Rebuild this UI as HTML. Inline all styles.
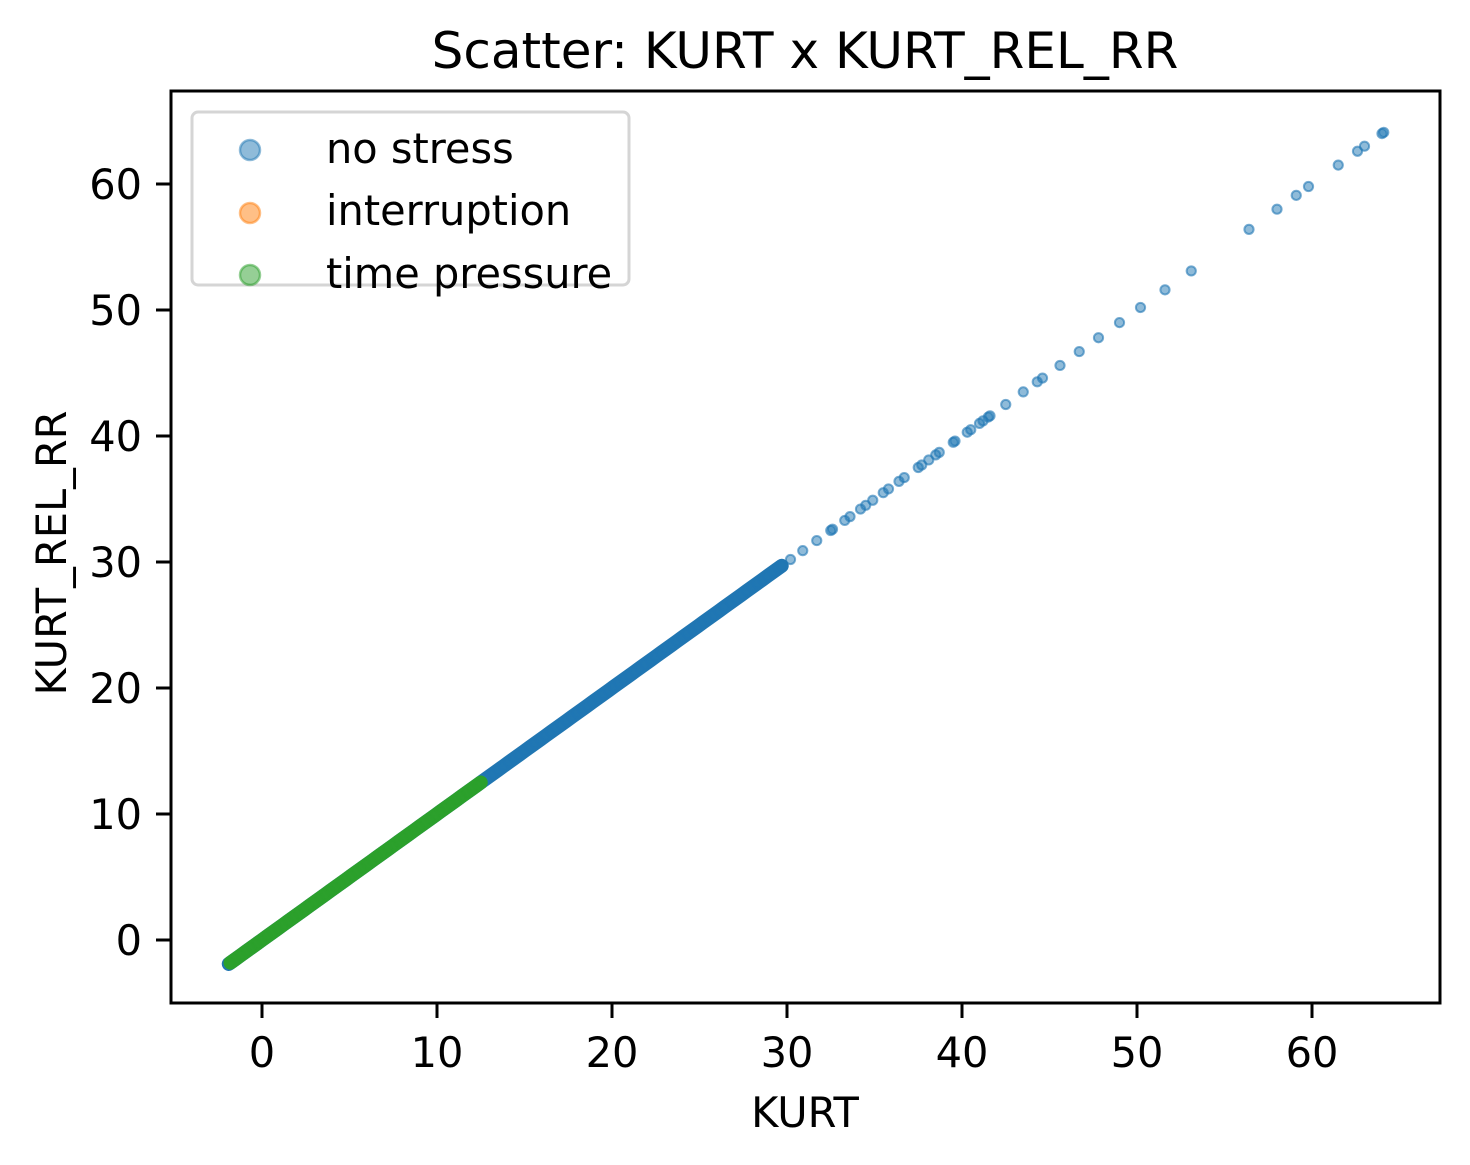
<!DOCTYPE html>
<html><head><meta charset="utf-8">
<style>
html,body{margin:0;padding:0;background:#fff;}
svg{display:block;font-family:"DejaVu Sans","Liberation Sans",sans-serif;}
</style></head>
<body>
<svg id="chart" width="1470" height="1165" viewBox="0 0 1470 1165">
<rect width="1470" height="1165" fill="#fff"/>
<text x="805" y="68" style="font-size:50px" text-anchor="middle">Scatter: KURT x KURT_REL_RR</text>
<g id="marks"></g>
<rect x="171" y="91" width="1269" height="912" fill="none" stroke="#000" stroke-width="3"/>
<g id="xticks"></g>
<g id="yticks"></g>
<text x="805" y="1127" style="font-size:41.5px" text-anchor="middle">KURT</text>
<text transform="translate(66,553) rotate(-90)" style="font-size:41.5px" text-anchor="middle">KURT_REL_RR</text>
<g>
<rect x="192" y="112" width="437" height="173" rx="6" fill="#fff" fill-opacity="0.8" stroke="#d5d5d5" stroke-width="3"/>
<g>
<circle cx="250" cy="150" r="10" fill="#1f77b4" fill-opacity="0.5" stroke="#1f77b4" stroke-opacity="0.5" stroke-width="2.5"/>
<text x="326" y="163" style="font-size:41.5px">no stress</text></g>
<g>
<circle cx="250" cy="213" r="10" fill="#ff7f0e" fill-opacity="0.5" stroke="#ff7f0e" stroke-opacity="0.5" stroke-width="2.5"/>
<text x="326" y="225" style="font-size:41.5px">interruption</text></g>
<g>
<circle cx="250" cy="275" r="10" fill="#2ca02c" fill-opacity="0.5" stroke="#2ca02c" stroke-opacity="0.5" stroke-width="2.5"/>
<text x="326" y="288" style="font-size:41.5px">time pressure</text></g>
</g>
</svg>
<script>
const xTickValues=[0,10,20,30,40,50,60];
const yTickValues=[0,10,20,30,40,50,60];
const noStressX=[-1.9,-1.7,-1.5,-1.2,-0.9,-0.6,-0.3,0,0.3,0.6,0.9,1.2,1.5,1.8,2.1,2.4,2.7,3,3.3,3.6,3.9,4.2,4.5,4.8,5.1,5.4,5.7,6,6.3,6.6,6.9,7.2,7.5,7.8,8.1,8.4,8.7,9,9.3,9.6,9.9,10.2,10.5,10.8,11.1,11.4,11.7,12,12.3,12.6,12.9,13.2,13.5,13.8,14.1,14.4,14.7,15,15.3,15.6,15.9,16.2,16.5,16.8,17.1,17.4,17.7,18,18.3,18.6,18.9,19.2,19.5,19.8,20.1,20.4,20.7,21,21.3,21.6,21.9,22.2,22.5,22.8,23.1,23.4,23.7,24,24.3,24.6,24.9,25.2,25.5,25.8,26.1,26.4,26.8,27.1,27.4,27.7,28,28.3,28.6,28.9,29.2,29.5,29.7,30.2,30.9,31.7,32.5,32.6,33.3,33.6,34.2,34.5,34.9,35.5,35.8,36.4,36.7,37.5,37.7,38.1,38.5,38.7,39.5,39.6,40.3,40.5,41.0,41.2,41.5,41.6,42.5,43.5,44.3,44.6,45.6,46.7,47.8,49.0,50.2,51.6,53.1,56.4,58.0,59.1,59.8,61.5,62.6,63.0,64.0,64.1];
const noStressY=noStressX.slice();
const interruptionX=[-1.5,0,2,4,6,8,10];
const interruptionY=interruptionX.slice();
const timePressureX=[-1.8,-1.5,-1.2,-0.9,-0.6,-0.3,0,0.3,0.6,0.9,1.2,1.5,1.8,2.1,2.4,2.7,3,3.3,3.6,3.9,4.2,4.5,4.8,5.1,5.4,5.7,6,6.3,6.6,6.9,7.2,7.5,7.8,8.1,8.4,8.7,9,9.3,9.6,9.9,10.2,10.5,10.8,11.1,11.4,11.7,12,12.3,12.5];
const timePressureY=timePressureX.slice();

const NS="http://www.w3.org/2000/svg";
function xScale(v){return 262+v*17.5;}
function yScale(v){return 940-v*12.6;}

const marks=document.getElementById('marks');
function drawSeries(xs,ys,color,name){
  const g=document.createElementNS(NS,'g');
  
  
  for(let i=0;i<xs.length;i++){
    const c=document.createElementNS(NS,'circle');
    c.setAttribute('cx',xScale(xs[i]));
    c.setAttribute('cy',yScale(ys[i]));
    c.setAttribute('r',4.6);
    c.setAttribute('fill',color);
    c.setAttribute('fill-opacity',0.5);
    c.setAttribute('stroke',color);
    c.setAttribute('stroke-opacity',0.6);
    c.setAttribute('stroke-width',2);
    
    
    g.appendChild(c);
  }
  marks.appendChild(g);
}
function drawDense(xs,ys,color,name,maxX){
  let pts=[];
  for(let i=0;i<xs.length;i++){if(xs[i]<=maxX)pts.push(xScale(xs[i])+','+yScale(ys[i]));}
  const p=document.createElementNS(NS,'polyline');
  p.setAttribute('points',pts.join(' '));
  p.setAttribute('fill','none');
  p.setAttribute('stroke',color);
  p.setAttribute('stroke-width',14);
  p.setAttribute('stroke-linecap','round');
  
  
  marks.appendChild(p);
}
drawDense(noStressX,noStressY,'#2176b2','no-stress-dense',29.7);
drawSeries(noStressX,noStressY,'#1f77b4','series-no-stress');
drawSeries(interruptionX,interruptionY,'#ff7f0e','series-interruption');
drawDense(timePressureX,timePressureY,'#2ca02c','time-pressure-dense',12.5);
drawSeries(timePressureX,timePressureY,'#2ca02c','series-time-pressure');

const xt=document.getElementById('xticks');
xTickValues.forEach(v=>{
  const l=document.createElementNS(NS,'line');
  l.setAttribute('x1',xScale(v));l.setAttribute('x2',xScale(v));
  l.setAttribute('y1',1003);l.setAttribute('y2',1018);
  l.setAttribute('stroke','#000');l.setAttribute('stroke-width',3);
  
  
  xt.appendChild(l);
  const t=document.createElementNS(NS,'text');
  t.setAttribute('x',xScale(v));t.setAttribute('y',1067);
  t.setAttribute('style','font-size:41.5px');t.setAttribute('text-anchor','middle');
  t.textContent=v;
  
  
  xt.appendChild(t);
});
const yt=document.getElementById('yticks');
yTickValues.forEach(v=>{
  const l=document.createElementNS(NS,'line');
  l.setAttribute('x1',156);l.setAttribute('x2',171);
  l.setAttribute('y1',yScale(v));l.setAttribute('y2',yScale(v));
  l.setAttribute('stroke','#000');l.setAttribute('stroke-width',3);
  
  
  yt.appendChild(l);
  const t=document.createElementNS(NS,'text');
  t.setAttribute('x',142);t.setAttribute('y',yScale(v)+15);
  t.setAttribute('style','font-size:41.5px');t.setAttribute('text-anchor','end');
  t.textContent=v;
  
  
  yt.appendChild(t);
});
</script>
</body></html>
